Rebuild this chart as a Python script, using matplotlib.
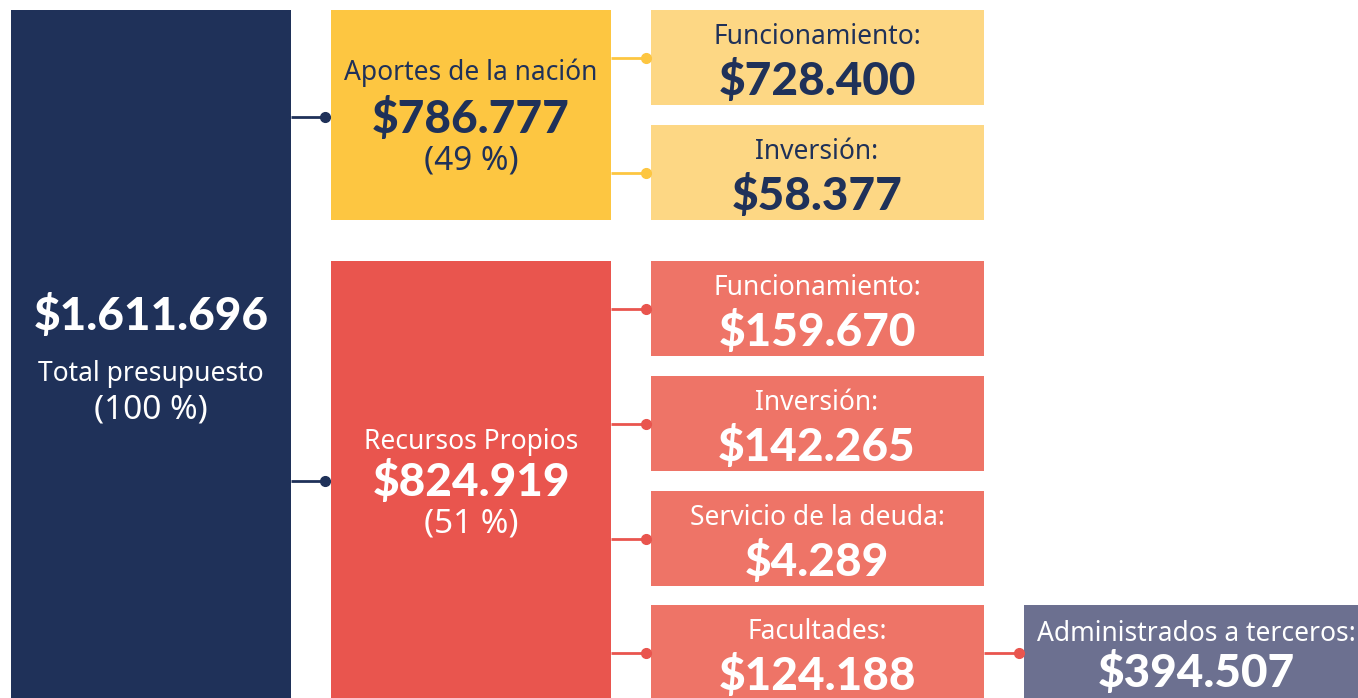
import matplotlib.pyplot as plt
from matplotlib.patches import Rectangle

# presupuesto (millones de pesos)
total_valor = '$1.611.696'
total_label = 'Total presupuesto'
total_pct = '(100 %)'

fuentes = ['Aportes de la nación', 'Recursos Propios']
fuentes_valor = ['$786.777', '$824.919']
fuentes_pct = ['(49 %)', '(51 %)']

nacion_items = ['Funcionamiento:', 'Inversión:']
nacion_valores = ['$728.400', '$58.377']

propios_items = ['Funcionamiento:', 'Inversión:', 'Servicio de la deuda:', 'Facultades:']
propios_valores = ['$159.670', '$142.265', '$4.289', '$124.188']

terceros_item = 'Administrados a terceros:'
terceros_valor = '$394.507'

navy = '#1f3159'
yellow = '#fdc641'
light_yellow = '#fdd784'
red = '#e9554e'
salmon = '#ee7467'
purple = '#6c7090'

W, H = 1358, 698
fig = plt.figure(figsize=(W / 100, H / 100), dpi=100)
ax = fig.add_axes([0, 0, 1, 1])
ax.set_xlim(0, W)
ax.set_ylim(H, 0)
ax.axis('off')

label_font = 'Noto Sans'
num_font = 'Lato'

LBL, NUM, PCT = 19, 33, 24


def box(x0, y0, x1, y1, color):
    ax.add_patch(Rectangle((x0, y0), x1 - x0, y1 - y0, color=color, lw=0))


def link(x0, x1, y, color):
    ax.plot([x0, x1], [y, y], color=color, lw=2, solid_capstyle='butt')
    ax.plot(x1, y, 'o', color=color, ms=7)


def txt(x, y, s, color, size, kind='label'):
    if kind == 'num':
        ax.text(x, y, s, color=color, fontsize=size, ha='center', va='center',
                family=num_font, fontweight='black')
    elif kind == 'pct':
        ax.text(x, y, s, color=color, fontsize=size, ha='center', va='center',
                family=label_font, fontweight='medium')
    else:
        ax.text(x, y, s, color=color, fontsize=size, ha='center', va='center',
                family=label_font)


# total
box(11, 10, 291, 720, navy)
txt(151, 316, total_valor, 'white', NUM, 'num')
txt(151, 374, total_label, 'white', LBL)
txt(151, 410, total_pct, 'white', PCT, 'pct')

# aportes de la nacion
box(331, 10, 611, 220, yellow)
link(291, 325, 117, navy)
txt(471, 73, fuentes[0], navy, LBL)
txt(471, 119, fuentes_valor[0], navy, NUM, 'num')
txt(471, 161, fuentes_pct[0], navy, PCT, 'pct')

ys_nacion = [10, 125]
for y0, item, val in zip(ys_nacion, nacion_items, nacion_valores):
    box(651, y0, 984, y0 + 95, light_yellow)
    link(611, 646, y0 + 48, yellow)
    txt(817, y0 + 27, item, navy, LBL)
    txt(817, y0 + 71, val, navy, NUM, 'num')

# recursos propios
box(331, 261, 611, 720, red)
link(291, 325, 481, navy)
txt(471, 442, fuentes[1], 'white', LBL)
txt(471, 482, fuentes_valor[1], 'white', NUM, 'num')
txt(471, 524, fuentes_pct[1], 'white', PCT, 'pct')

ys_propios = [261, 376, 491, 605]
for y0, item, val in zip(ys_propios, propios_items, propios_valores):
    box(651, y0, 984, y0 + 95, salmon)
    link(611, 646, y0 + 48, red)
    txt(817, y0 + 27, item, 'white', LBL)
    txt(817, y0 + 71, val, 'white', NUM, 'num')

# administrados a terceros
box(1024, 605, 1370, 720, purple)
link(984, 1019, 653, red)
txt(1196, 634, terceros_item, 'white', LBL)
txt(1196, 673, terceros_valor, 'white', NUM, 'num')

fig.savefig('out.png', dpi=100)
